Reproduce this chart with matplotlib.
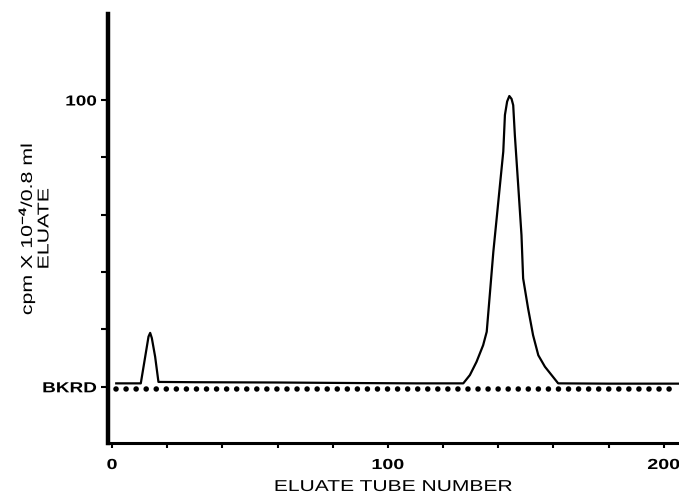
import numpy as np
import matplotlib
matplotlib.use('Agg')
import matplotlib.pyplot as plt
from matplotlib import patheffects
from matplotlib.transforms import Affine2D

plt.rcParams['font.family'] = ['Liberation Sans', 'DejaVu Sans']
plt.rcParams['font.weight'] = 'bold'
plt.rcParams['mathtext.fontset'] = 'custom'
plt.rcParams['mathtext.rm'] = 'Liberation Sans:bold'
plt.rcParams['mathtext.it'] = 'Liberation Sans:bold'

# eluate profile (cpm x 10^-4 above background)
tube = [1.5, 10.4, 12.0, 13.2, 13.8, 14.4, 15.6, 16.8, 30, 60, 90, 110, 127.3,
        129.7, 132.1, 134.5, 135.8, 137.0, 138.2, 139.4, 140.6, 141.8, 142.4,
        143.2, 144.0, 144.8, 145.4, 146.0, 147.2, 148.4, 149.0, 150.8, 152.6,
        154.5, 156.9, 161.7, 180, 205.5]
cpm = [1.2, 1.2, 10.5, 17.5, 18.8, 17.0, 10.5, 1.7, 1.6, 1.5, 1.3, 1.2, 1.2,
       4.1, 8.7, 14.5, 19.2, 33.1, 47.1, 58.7, 70.4, 82.0, 94.8,
       99.5, 101.4, 100.4, 98.2, 87.7, 70.4, 52.9, 37.8, 27.3, 18.0,
       11.0, 7.0, 1.2, 1.1, 1.1]

# background count (dotted line)
bkrd_tube = [1.5, 205.5]
bkrd_val = [-0.9, -0.9]

xticks = np.arange(0, 201, 20)
xlabels = ['0' if t == 0 else '100' if t == 100 else '200' if t == 200 else '' for t in xticks]
yticks = np.arange(0, 101, 20)
ylabels = ['BKRD', '', '', '', '', '100']


class HStretch(patheffects.AbstractPathEffect):
    # widen the glyphs along the text direction (the original lettering is expanded)
    def __init__(self, sx=1.3, anchor='center'):
        super().__init__()
        self.sx = sx
        self.anchor = anchor

    def draw_path(self, renderer, gc, tpath, affine, rgbFace=None):
        ext = tpath.get_extents()
        cx = {'left': ext.x0, 'center': 0.5 * (ext.x0 + ext.x1), 'right': ext.x1}[self.anchor]
        st = Affine2D().translate(-cx, 0).scale(self.sx, 1).translate(cx, 0)
        renderer.draw_path(gc, tpath, st + affine, rgbFace)


fig = plt.figure(figsize=(6.79, 4.93), dpi=100)
ax = fig.add_axes([0.159, 0.1014, 0.841, 0.8702])

ax.plot(tube, cpm, color='black', lw=1.6, solid_joinstyle='round')
ax.plot(bkrd_tube, bkrd_val, color='black', lw=4.0,
        linestyle=(0, (0.01, 1.8)), dash_capstyle='round')

ax.set_xlim(-1.5, 205.5)
ax.set_ylim(-19.6, 130)

for s in ['top', 'right']:
    ax.spines[s].set_visible(False)
ax.spines['left'].set_linewidth(3.2)
ax.spines['bottom'].set_linewidth(2.2)

ax.set_xticks(xticks)
ax.set_xticklabels(xlabels)
ax.set_yticks(yticks)
ax.set_yticklabels(ylabels)
ax.tick_params(axis='x', length=3.6, width=1.5, pad=7.2, labelsize=10.5)
ax.tick_params(axis='y', length=5, width=1.5, pad=3, labelsize=10.5)
for t in ax.get_xticklabels():
    t.set_path_effects([HStretch(1.35, 'center')])
for t in ax.get_yticklabels():
    t.set_path_effects([HStretch(1.3, 'right')])

xl = ax.set_xlabel('ELUATE TUBE NUMBER', fontsize=11.3, labelpad=5)
xl.set_path_effects([HStretch(1.34, 'center')])
yl = ax.set_ylabel('cpm X 10$^{-4}$/0.8 ml\nELUATE', fontsize=11.3,
                   linespacing=0.95)
yl.set_path_effects([HStretch(1.36, 'center')])
ax.yaxis.set_label_coords(-0.099, 0.5)

fig.savefig('out.png', dpi=100)
